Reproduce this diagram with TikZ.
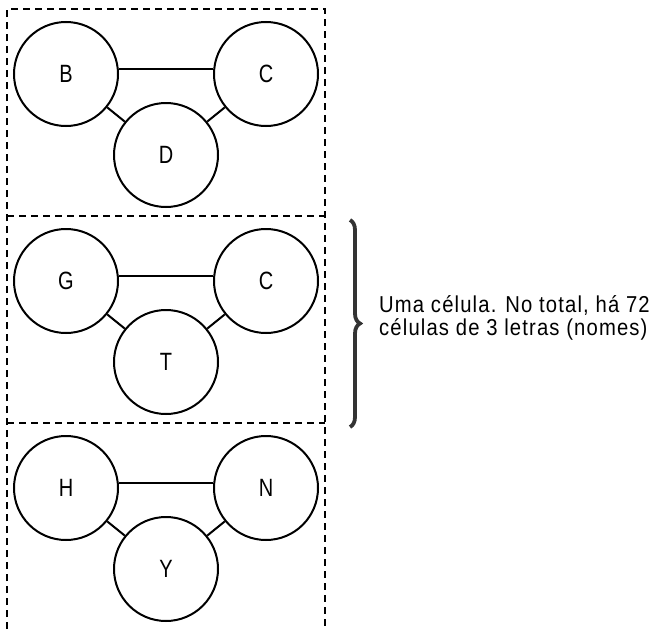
\documentclass[tikz,border=0pt]{standalone}
\usepackage{fontspec}
\setmainfont{Liberation Sans}
\newfontfamily\narrowsans[FakeStretch=0.8]{Liberation Sans}
\newfontfamily\notesans[FakeStretch=0.88,LetterSpace=5]{Liberation Sans}
\usetikzlibrary{decorations.pathreplacing}
\definecolor{bracegray}{HTML}{333333}
\tikzset{
  cell/.style={circle, draw=black, line width=2pt, minimum size=104pt, inner sep=0pt, font=\narrowsans\fontsize{25}{28}\selectfont},
  link/.style={draw=black, line width=2pt},
  frame/.style={draw=black, line width=2pt, dash pattern=on 7pt off 5pt},
  bracestyle/.style={draw=bracegray, line width=3.8pt, decorate, decoration={brace, amplitude=10pt}},
}
\begin{document}
\begin{tikzpicture}[x=1pt,y=-1pt]
\useasboundingbox (0,0) rectangle (661,629);
% frame
\coordinate (TL) at (7,9);
\coordinate (TR) at (325,9);
\coordinate (BL) at (7,629);
\coordinate (BR) at (325,629);
\coordinate (M1L) at (7,216);
\coordinate (M1R) at (325,216);
\coordinate (M2L) at (7,423);
\coordinate (M2R) at (325,423);
\draw[frame] (BL) -- (TL) -- (TR) -- (BR);
\draw[frame] (M1L) -- (M1R);
\draw[frame] (M2L) -- (M2R);
% block 1
\node[cell] (B) at (66,74) {B};
\node[cell] (C1) at (266,74) {C};
\node[cell] (D) at (166,155) {D};
\draw[link] (B.5) -- (C1.175);
\draw[link] (B) -- (D);
\draw[link] (C1) -- (D);
% block 2
\node[cell] (G) at (66,281) {G};
\node[cell] (C2) at (266,281) {C};
\node[cell] (T) at (166,362) {T};
\draw[link] (G.5) -- (C2.175);
\draw[link] (G) -- (T);
\draw[link] (C2) -- (T);
% block 3
\node[cell] (H) at (66,488) {H};
\node[cell] (N) at (266,488) {N};
\node[cell] (Y) at (166,569) {Y};
\draw[link] (H.5) -- (N.175);
\draw[link] (H) -- (Y);
\draw[link] (N) -- (Y);
% brace and note
\coordinate (BrTop) at (350,220);
\coordinate (BrBot) at (350,427);
\draw[bracestyle] (BrTop) -- (BrBot);
\node[anchor=west, align=left, inner sep=0pt, font=\notesans\fontsize{23}{23.5}\selectfont] (note) at (379,318) {Uma célula. No total, há 72\\células de 3 letras (nomes)};
\end{tikzpicture}
\end{document}
